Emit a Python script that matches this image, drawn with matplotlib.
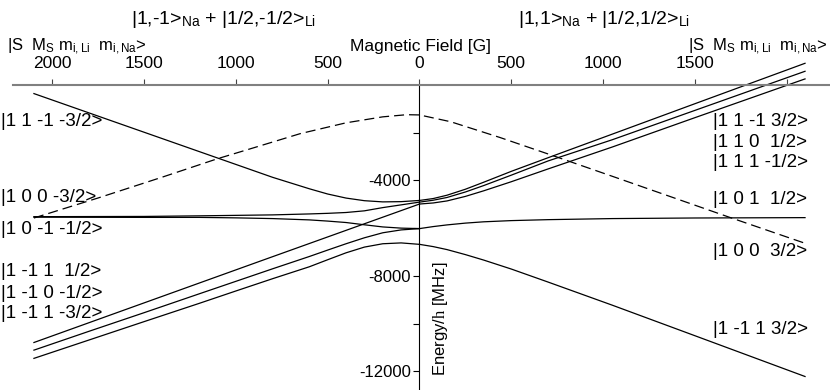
import matplotlib
matplotlib.use("Agg")
import matplotlib.pyplot as plt

plt.rcParams['font.family'] = ['Liberation Sans', 'DejaVu Sans']
plt.rcParams['mathtext.fontset'] = 'custom'
plt.rcParams['mathtext.rm'] = 'Liberation Sans'
plt.rcParams['mathtext.it'] = 'Liberation Serif'
plt.rcParams['mathtext.bf'] = 'Liberation Sans:bold'

# ---------------- data (field in G, energy in MHz) ----------------
# left-hand branch (field magnitude shown on the left half, plotted as negative)
B_left = [-2100, -1800, -1500, -1200, -1000, -800, -600, -500, -400, -300, -200, -100, 0]
E_a = [-360, -1170, -1980, -2790, -3330, -3870, -4350, -4570, -4740, -4850, -4900, -4890, -4840]
E_b = [-5520, -5515, -5510, -5485, -5465, -5445, -5405, -5380, -5345, -5275, -5140, -5025, -4910]
E_c = [-5540, -5545, -5550, -5550, -5570, -5600, -5655, -5705, -5765, -5860, -5950, -6000, -6020]
E_e = [-11115, -10325, -9545, -8755, -8230, -7705, -7190, -6920, -6655, -6405, -6195, -6075, -6020]
E_f = [-11460, -10690, -9920, -9155, -8635, -8120, -7620, -7325, -7035, -6795, -6655, -6620, -6680]
B_d = [-2100, -850, 0]
E_d = [-10795, -7335, -4990]

# right-hand branch
B_right = [0, 75, 150, 250, 350, 500, 700, 1050, 1500, 2100]
E_r1 = [-4840, -4760, -4620, -4370, -4075, -3620, -3050, -2060, -785, 910]
E_r2 = [-4910, -4830, -4715, -4485, -4215, -3780, -3185, -2295, -1065, 575]
E_r3 = [-4990, -4945, -4860, -4670, -4435, -4055, -3520, -2600, -1370, 255]
E_r4 = [-6020, -5935, -5865, -5790, -5735, -5685, -5645, -5600, -5575, -5560]
E_r5 = [-6680, -6775, -6900, -7110, -7340, -7715, -8260, -9230, -10510, -12220]

# dashed state
B_dash = [-2100, -1750, -1400, -1100, -900, -650, -400, -200, -70, 0, 170, 440, 700, 1070, 1690, 2100]
E_dash = [-5575, -4735, -3860, -3090, -2625, -2040, -1585, -1335, -1245, -1255, -1540, -2205, -2890, -3880, -5550, -6635]

x_ticks = [-2000, -1500, -1000, -500, 0, 500, 1000, 1500, 2000]
x_ticklabels = ['2000', '1500', '1000', '500', '0', '500', '1000', '1500', '']
y_ticks = [-12000, -10000, -8000, -6000, -4000, -2000]
y_ticklabels = ['-12000', '', '-8000', '', '-4000', '']

left_labels = ['|1 1 -1 -3/2>', '|1 0 0 -3/2>', '|1 0 -1 -1/2>',
               '|1 -1 1  1/2>', '|1 -1 0 -1/2>', '|1 -1 1 -3/2>']
right_labels = ['|1 1 -1 3/2>', '|1 1 0  1/2>', '|1 1 1 -1/2>',
                '|1 0 1  1/2>', '|1 0 0  3/2>', '|1 -1 1 3/2>']

# ---------------- figure ----------------
W, H = 830, 390
fig = plt.figure(figsize=(W / 100, H / 100), dpi=100)
ax = fig.add_axes([13 / W, 0, 1 - 13 / W, (H - 85) / H])
ax.set_xlim(-2214, 2236)
ax.set_ylim(-12786, 0)

lw = 0.9
for B, E in [(B_left, E_a), (B_left, E_b), (B_left, E_c), (B_left, E_e),
             (B_left, E_f), (B_d, E_d), (B_right, E_r1), (B_right, E_r2),
             (B_right, E_r3), (B_right, E_r4), (B_right, E_r5)]:
    ax.plot(B, E, color='black', lw=lw, solid_joinstyle='round', clip_on=False)
ax.plot(B_dash, E_dash, color='black', lw=lw, dashes=(8, 4), clip_on=False)

for s in ['right', 'bottom']:
    ax.spines[s].set_visible(False)
ax.spines['top'].set_color('#808080')
ax.spines['top'].set_linewidth(1.5)
ax.spines['left'].set_position(('data', 0))
ax.spines['left'].set_color('black')
ax.spines['left'].set_linewidth(0.8)

ax.xaxis.tick_top()
ax.set_xticks(x_ticks)
ax.set_xticklabels(x_ticklabels)
ax.tick_params(axis='x', direction='out', length=4, width=0.8, color='#444444',
               pad=6, labelsize=12.5)
ax.set_yticks(y_ticks)
ax.set_yticklabels(y_ticklabels)
ax.tick_params(axis='y', direction='out', length=4, width=0.8, color='black',
               pad=2, labelsize=12)

def fx(px):
    return px / W

def fy(py):
    return 1 - py / H

fig.text(fx(420), fy(46), 'Magnetic Field [G]', ha='center', va='center', fontsize=12.5)
fig.text(fx(223), fy(19), r'|1,-1>$_{\rm Na}$ + |1/2,-1/2>$_{\rm Li}$',
         ha='center', va='center', fontsize=14)
fig.text(fx(604), fy(19), r'|1,1>$_{\rm Na}$ + |1/2,1/2>$_{\rm Li}$',
         ha='center', va='center', fontsize=14)
hdr = r'|S  M$_{\rm S}$ m$_{\rm i,Li}$  m$_{\rm i,Na}$>'
fig.text(fx(7), fy(46), hdr, ha='left', va='center', fontsize=12)
fig.text(fx(828), fy(46), hdr, ha='right', va='center', fontsize=12)

for lab, py in zip(left_labels, [121, 198, 230, 272, 293, 313]):
    fig.text(fx(1), fy(py), lab, ha='left', va='center', fontsize=13.5)
for lab, py in zip(right_labels, [122, 142, 162, 200, 251, 330]):
    fig.text(fx(713), fy(py), lab, ha='left', va='center', fontsize=13.5)

fig.text(fx(440), fy(319), r'Energy/$h$ [MHz]', ha='center', va='center',
         rotation=90, fontsize=12)

fig.savefig('out.png', dpi=100)
